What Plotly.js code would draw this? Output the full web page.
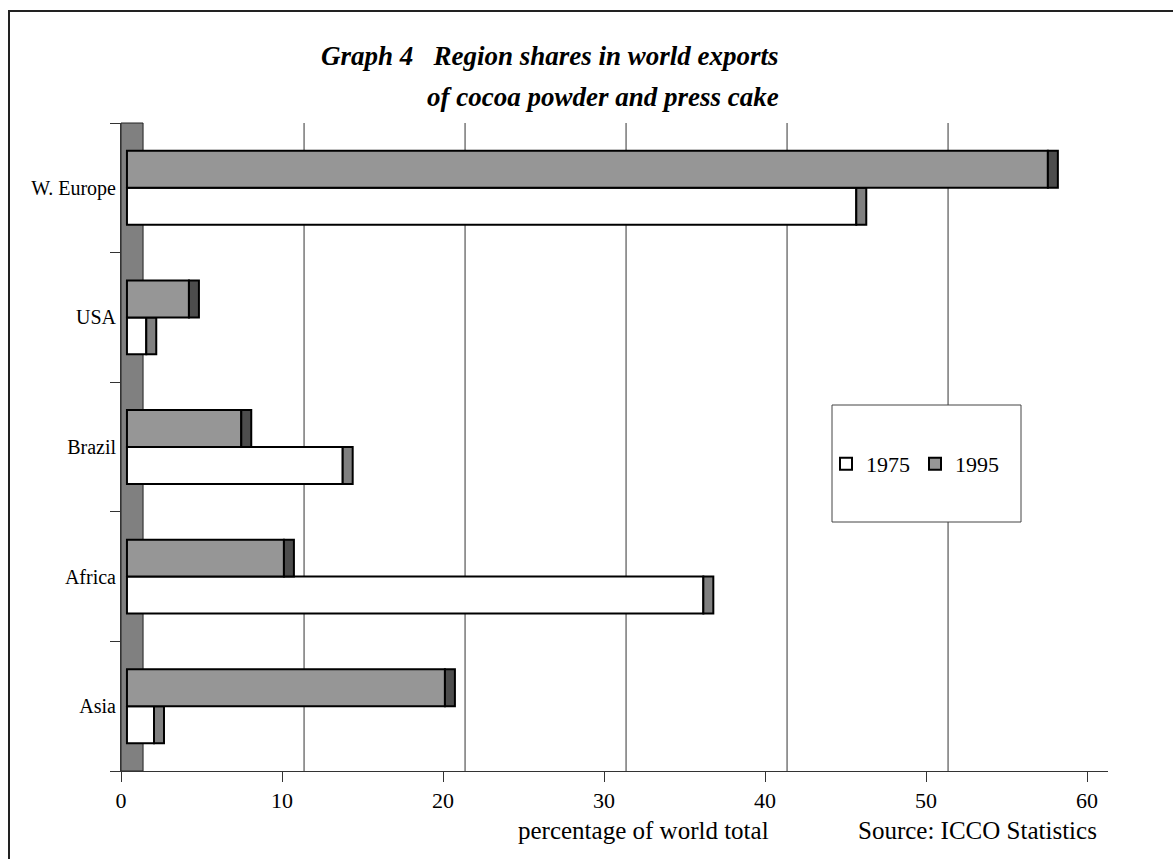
<!DOCTYPE html>
<html>
<head>
<meta charset="utf-8">
<script src="https://cdn.plot.ly/plotly-3.0.1.min.js"></script>
<style>html,body{margin:0;padding:0;background:#fff;}#chart{width:1173px;height:859px;}</style>
</head>
<body>
<div id="chart"></div>
<script>
// Data
const regions = ['Asia', 'Africa', 'Brazil', 'USA', 'W. Europe'];   // bottom to top
const share1975 = [1.68, 35.8, 13.4, 1.2, 45.3];
const share1995 = [19.75, 9.75, 7.1, 3.85, 57.2];
const seriesNames = ['1975', '1995'];
const xTicks = [0, 10, 20, 30, 40, 50, 60];

// 3-D look parameters (style, not data)
const WALL = 1.37;    // depth of the back wall in axis units
const FRONT = 0.37;   // bar front face offset
const CAP = 0.62;     // visible side of the bar
const BARW = 0.285;

const font = 'Liberation Serif, Times New Roman, serif';

function front(vals, name, color) {
  return {
    type: 'bar', orientation: 'h', y: regions, x: vals,
    base: vals.map(() => FRONT), name: name,
    width: BARW, offset: name === '1975' ? -BARW : 0,
    marker: {color: color, line: {color: '#000', width: 2}},
    hoverinfo: 'x+y'
  };
}
function cap(vals, name, color) {
  return {
    type: 'bar', orientation: 'h', y: regions, x: vals.map(() => CAP),
    base: vals.map(v => v + FRONT), name: name, showlegend: false,
    width: BARW, offset: name === '1975' ? -BARW : 0,
    marker: {color: color, line: {color: '#000', width: 2}},
    hoverinfo: 'skip'
  };
}

const traces = [
  front(share1975, seriesNames[0], '#ffffff'),
  cap(share1975, seriesNames[0], '#808080'),
  front(share1995, seriesNames[1], '#969696'),
  cap(share1995, seriesNames[1], '#4d4d4d')
];

const W = 1173, H = 859;
const L = 121, R = 1108, T = 123, B = 771;
const px = x => (x - L) / (R - L);
const py = y => (B - y) / (B - T);

const shapes = [];
// back-plane gridlines
xTicks.slice(1).forEach(v => shapes.push({
  type: 'line', xref: 'x', yref: 'paper', x0: v + WALL, x1: v + WALL, y0: 0, y1: 1,
  line: {color: '#333', width: 1}, layer: 'below'
}));
// side wall
shapes.push({type: 'rect', xref: 'x', yref: 'paper', x0: 0, x1: WALL, y0: 0, y1: 1,
  fillcolor: '#808080', line: {color: '#222', width: 1}, layer: 'below'});
// legend box
shapes.push({type: 'rect', xref: 'paper', yref: 'paper', x0: px(832), x1: px(1021), y0: py(522), y1: py(405),
  fillcolor: '#fff', line: {color: '#444', width: 1}, layer: 'below'});
// outer frame
shapes.push({type: 'rect', xref: 'paper', yref: 'paper', x0: px(9), x1: px(1200), y0: py(900), y1: py(11),
  fillcolor: 'rgba(0,0,0,0)', line: {color: '#222', width: 2}, layer: 'above'});

const annotations = [
  {text: '<b><i>Graph 4&nbsp;&nbsp;&nbsp;Region shares in world exports</i></b>', xref: 'paper', yref: 'paper',
   x: px(781), y: py(56), xanchor: 'right', yanchor: 'middle', showarrow: false,
   font: {family: font, size: 27, color: '#000'}},
  {text: '<b><i>of cocoa powder and press cake</i></b>', xref: 'paper', yref: 'paper',
   x: px(781), y: py(97), xanchor: 'right', yanchor: 'middle', showarrow: false,
   font: {family: font, size: 27, color: '#000'}},
  {text: 'percentage of world total', xref: 'paper', yref: 'paper',
   x: px(771), y: py(830), xanchor: 'right', yanchor: 'middle', showarrow: false,
   font: {family: font, size: 25, color: '#000'}},
  {text: 'Source: ICCO Statistics', xref: 'paper', yref: 'paper',
   x: px(1099), y: py(830), xanchor: 'right', yanchor: 'middle', showarrow: false,
   font: {family: font, size: 25, color: '#000'}}
];

const layout = {
  width: W, height: H,
  margin: {l: L, r: W - R, t: T, b: H - B, pad: 0},
  paper_bgcolor: '#fff', plot_bgcolor: 'rgba(0,0,0,0)',
  barmode: 'overlay',
  font: {family: font, size: 20, color: '#000'},
  xaxis: {
    range: [0, (R - L) / 16.1], tickvals: xTicks, ticktext: xTicks.map(String),
    showgrid: false, zeroline: false, showline: true, linecolor: '#333', linewidth: 1,
    ticks: 'outside', ticklen: 10, tickcolor: '#333', tickfont: {family: font, size: 22},
    automargin: false, fixedrange: true
  },
  yaxis: {
    type: 'category', categoryorder: 'array', categoryarray: regions, range: [-0.5, 4.5],
    showgrid: false, zeroline: false, showline: true, linecolor: '#333', linewidth: 1,
    ticks: 'outside', ticklen: 10, tickcolor: '#333', tickson: 'boundaries',
    tickfont: {family: font, size: 20}, automargin: false, fixedrange: true
  },
  legend: {
    orientation: 'h', x: px(826), y: py(464), xanchor: 'left', yanchor: 'middle',
    bgcolor: 'rgba(0,0,0,0)', borderwidth: 0, font: {family: font, size: 22},
    traceorder: 'normal'
  },
  shapes: shapes,
  annotations: annotations
};

Plotly.newPlot('chart', traces, layout, {displayModeBar: false, staticPlot: true});
</script>
</body>
</html>
